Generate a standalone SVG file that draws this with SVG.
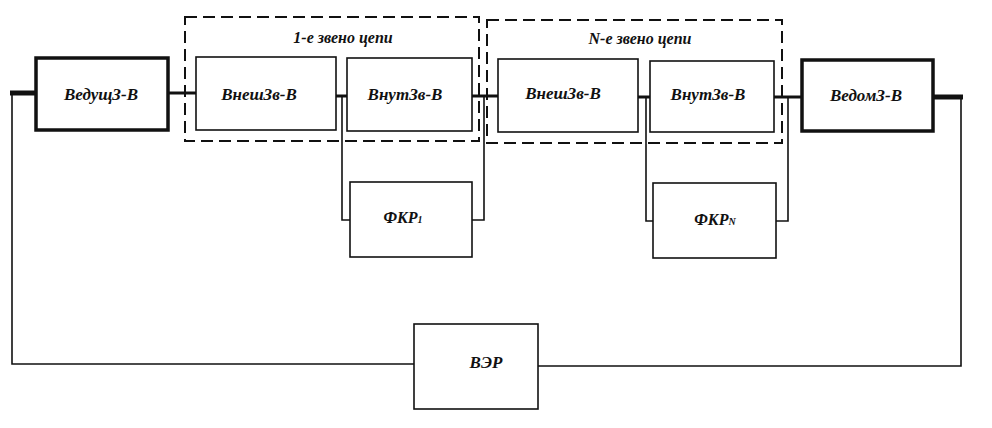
<svg xmlns="http://www.w3.org/2000/svg" width="992" height="428" viewBox="0 0 992 428">
<style>
.box{fill:#fff;stroke:#111;stroke-width:1.6}
.thick{fill:#fff;stroke:#111;stroke-width:3.5}
.dash{fill:none;stroke:#111;stroke-width:2;stroke-dasharray:12 6}
.w{fill:none;stroke:#111;stroke-width:1.6}
.tw{fill:none;stroke:#111;stroke-width:3}
.lbl{font-family:"Liberation Serif","Times New Roman",serif;font-style:italic;font-weight:bold;font-size:17px;fill:#111;text-anchor:middle}
.ttl{font-family:"Liberation Serif","Times New Roman",serif;font-style:italic;font-weight:bold;font-size:16px;fill:#111;text-anchor:middle}
</style>
<g id="connectors">
<path class="w" d="M12 93 V364 H414"/>
<path class="w" d="M538 366 H961 V97"/>
<path d="M10 93 H36" stroke="#111" stroke-width="5" fill="none"/>
<path d="M933 97 H963" stroke="#111" stroke-width="5" fill="none"/>
<path class="tw" d="M168 93 H196"/>
<path class="tw" d="M336 96 H347"/>
<path class="tw" d="M472 96 H498"/>
<path class="tw" d="M638 97 H650"/>
<path class="tw" d="M774 97 H802"/>
<path class="w" d="M342 96 V220 H350"/>
<path class="w" d="M472 220 H484 V96"/>
<path class="w" d="M646 97 V221 H653"/>
<path class="w" d="M776 221 H788 V97"/>
</g>
<g id="link1">
<rect class="dash" x="185" y="17" width="294" height="124"/>
<text class="ttl" x="343" y="43">1-е звено цепи</text>
</g>
<g id="linkN">
<rect class="dash" x="487" y="20" width="295" height="123"/>
<text class="ttl" x="640" y="44">N-е звено цепи</text>
</g>
<g id="vedushch">
<rect class="thick" x="36" y="58" width="132" height="72"/>
<text class="lbl" x="101" y="100">ВедущЗ-В</text>
</g>
<g id="vnesh1">
<rect class="box" x="196" y="57" width="140" height="73"/>
<text class="lbl" x="259" y="100">ВнешЗв-В</text>
</g>
<g id="vnut1">
<rect class="box" x="347" y="58" width="125" height="73"/>
<text class="lbl" x="405" y="100">ВнутЗв-В</text>
</g>
<g id="vnesh2">
<rect class="box" x="498" y="59" width="140" height="73"/>
<text class="lbl" x="563" y="99">ВнешЗв-В</text>
</g>
<g id="vnut2">
<rect class="box" x="650" y="61" width="124" height="71"/>
<text class="lbl" x="708" y="100">ВнутЗв-В</text>
</g>
<g id="vedom">
<rect class="thick" x="802" y="60" width="131" height="71"/>
<text class="lbl" x="866" y="101">ВедомЗ-В</text>
</g>
<g id="fkr1">
<rect class="box" x="350" y="182" width="122" height="75"/>
<text class="lbl" x="403" y="223" style="font-size:16px">ФКР<tspan style="font-size:10px">1</tspan></text>
</g>
<g id="fkrN">
<rect class="box" x="653" y="183" width="123" height="75"/>
<text class="lbl" x="715" y="225" style="font-size:16px">ФКР<tspan style="font-size:10px">N</tspan></text>
</g>
<g id="ver">
<rect class="box" x="414" y="324" width="124" height="85"/>
<text class="lbl" x="486" y="368">ВЭР</text>
</g>
</svg>
